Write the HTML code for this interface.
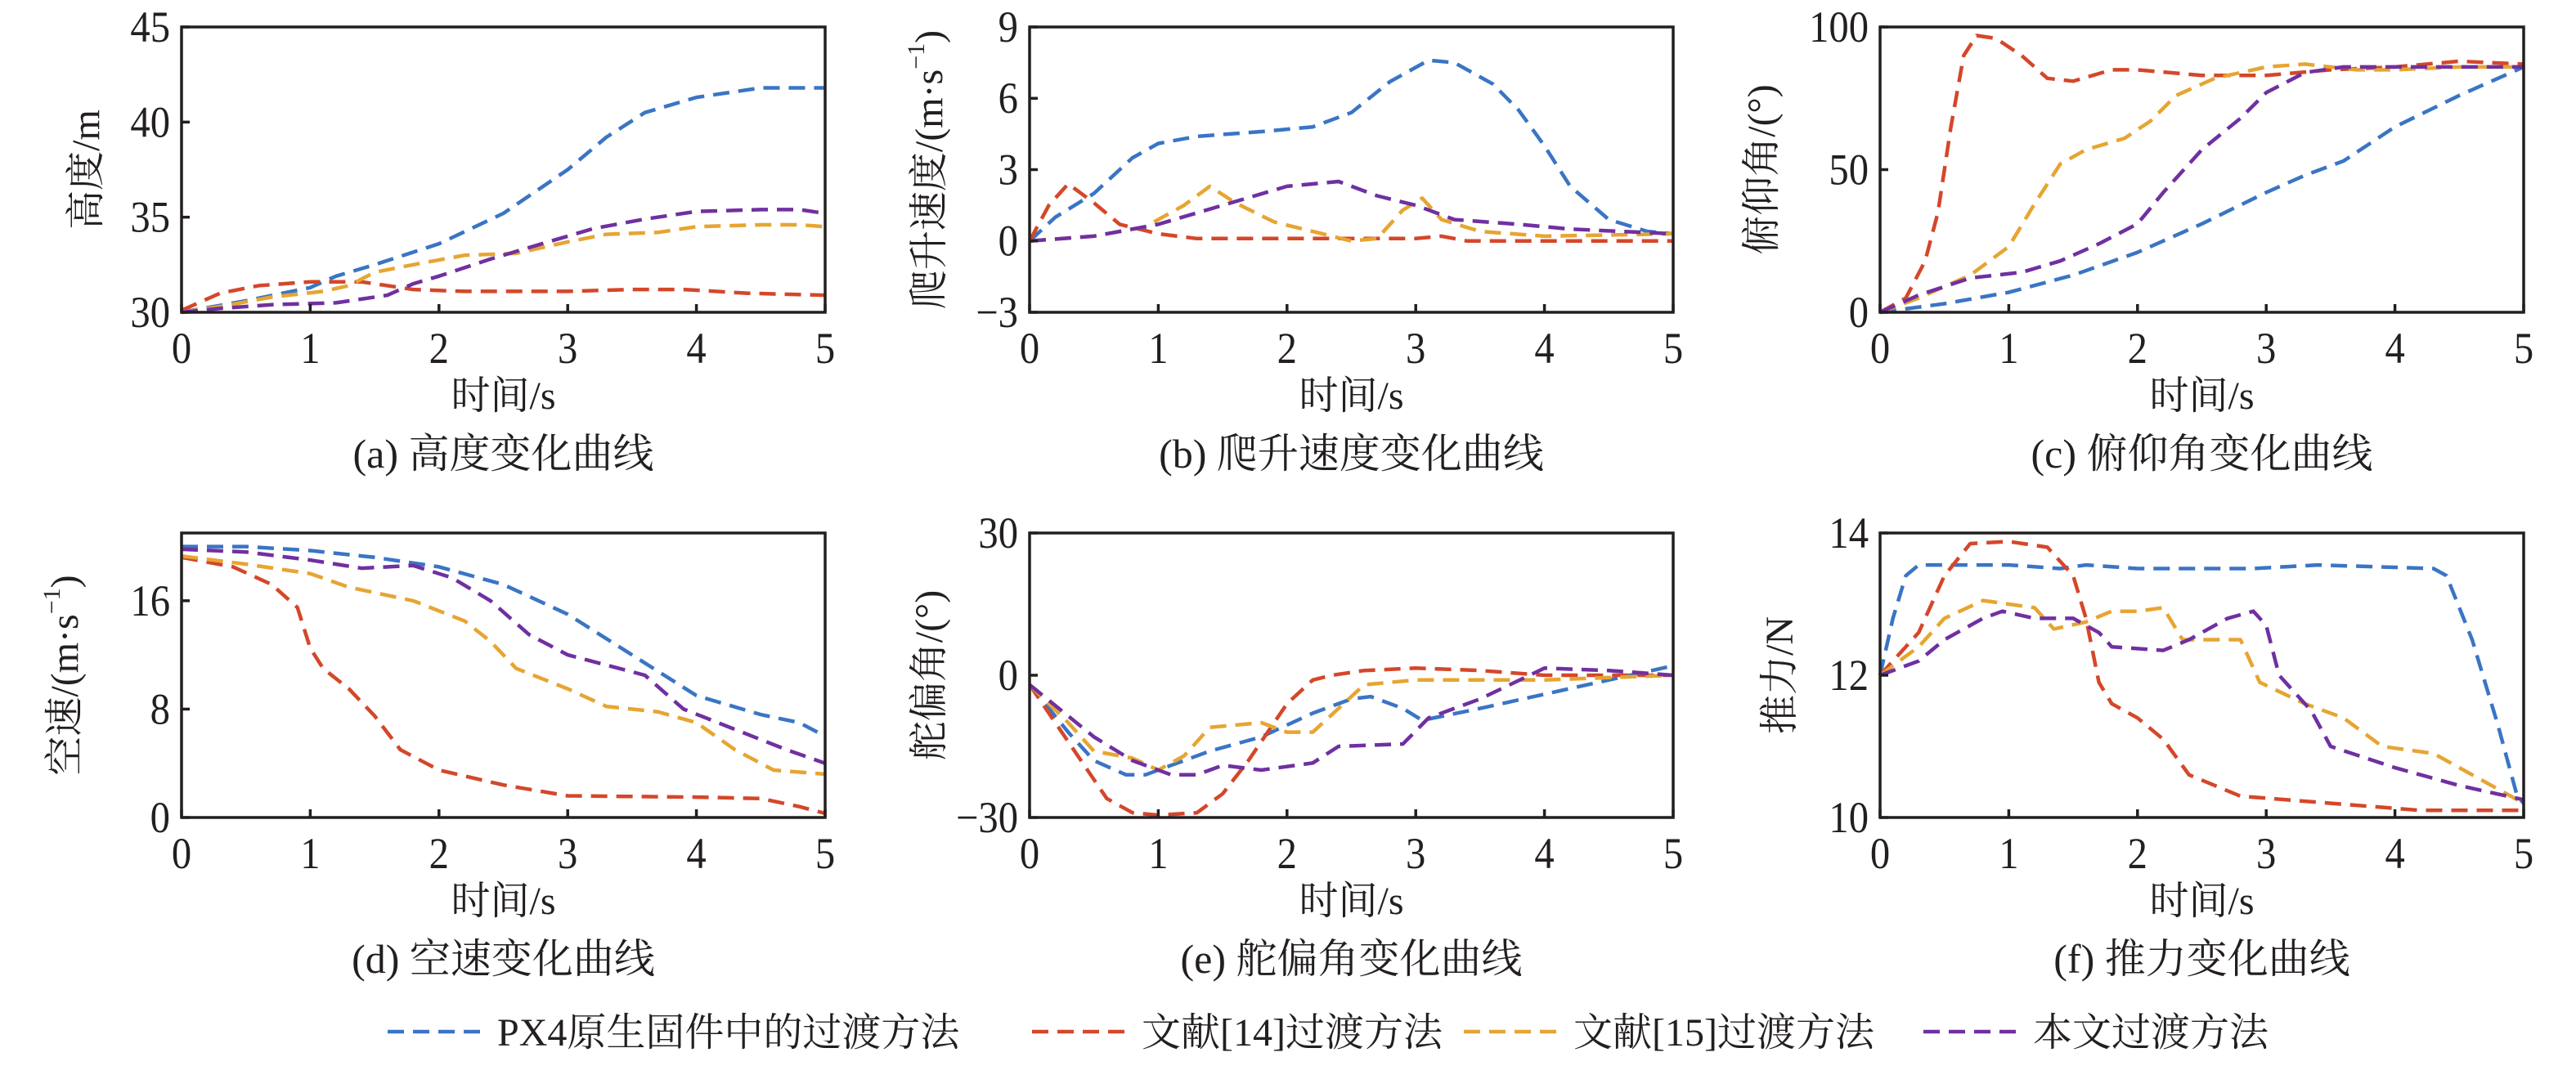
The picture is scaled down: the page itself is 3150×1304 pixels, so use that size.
<!DOCTYPE html>
<html><head><meta charset="utf-8"><style>
html,body{margin:0;padding:0;background:#fff;}
svg text{font-family:"Liberation Serif","Noto Serif CJK SC","Noto Sans CJK SC",serif;fill:#231f20;}
</style></head><body>
<svg id="s" xmlns="http://www.w3.org/2000/svg" width="3150" height="1299" viewBox="0 0 3150 1299"></svg>
<script>
const S=document.getElementById('s');
const C={b:'#3a75c4',r:'#d4472a',o:'#e6a532',p:'#7030a0'};
let h='';
function panel(x0,y0,x1,y1,ymin,ymax,yt,ylabel,cap,series,off){
  const X=t=>x0+(t/5)*(x1-x0), Y=v=>y1-(v-ymin)/(ymax-ymin)*(y1-y0);
  for(const k of ['b','r','o','p']){
    const d=series[k].map((q,i)=>(i?'L':'M')+X(q[0]).toFixed(1)+' '+Y(q[1]).toFixed(1)).join(' ');
    h+=`<path d="${d}" fill="none" stroke="${C[k]}" stroke-width="4.5" stroke-dasharray="20 11" stroke-linejoin="round"/>`;
  }
  h+=`<rect x="${x0}" y="${y0}" width="${x1-x0}" height="${y1-y0}" fill="none" stroke="#231f20" stroke-width="3.5"/>`;
  for(let t=0;t<=5;t++){const x=X(t);
    h+=`<line x1="${x}" y1="${y1}" x2="${x}" y2="${y1-10}" stroke="#231f20" stroke-width="3.5"/>`;
    h+=`<text x="${x}" y="${y1+62}" font-size="54" text-anchor="middle" transform="translate(${x} 0) scale(0.9 1) translate(${-x} 0)">${t}</text>`;}
  for(const v of yt){const y=Y(v);
    h+=`<line x1="${x0}" y1="${y}" x2="${x0+10}" y2="${y}" stroke="#231f20" stroke-width="3.5"/>`;
    h+=`<text x="${x0-14}" y="${y+18}" font-size="54" text-anchor="end" transform="translate(${x0-14} 0) scale(0.9 1) translate(${-(x0-14)} 0)">${v<0?'−'+(-v):v}</text>`;}
  const cx=x0-(off||125), cy=(y0+y1)/2;
  h+=`<text x="${cx}" y="${cy}" font-size="48" text-anchor="middle" dominant-baseline="middle" transform="rotate(-90 ${cx} ${cy})">${ylabel}</text>`;
  const mx=(x0+x1)/2;
  h+=`<text x="${mx}" y="${y1+118}" font-size="48" text-anchor="middle">时间/s</text>`;
  h+=`<text x="${mx}" y="${y1+190}" font-size="50" text-anchor="middle">${cap}</text>`;
}
const sup='<tspan font-size="30" dy="-18">−1</tspan><tspan dy="18">)</tspan>';
panel(222,33,1009,382,30,45,[30,35,40,45],'高度/m','(a) 高度变化曲线',{
b:[[0,30],[0.5,30.6],[1,31.3],[1.2,31.9],[1.5,32.5],[2,33.6],[2.5,35.2],[3,37.5],[3.3,39.2],[3.6,40.5],[4,41.3],[4.5,41.8],[5,41.8]],
r:[[0,30.1],[0.3,31],[0.6,31.4],[1,31.6],[1.4,31.6],[1.8,31.2],[2.2,31.1],[3,31.1],[3.5,31.2],[3.9,31.2],[4.4,31],[5,30.9]],
o:[[0,30],[0.3,30.3],[0.7,30.8],[1.1,31.1],[1.3,31.4],[1.5,32.1],[1.8,32.5],[2.2,33.0],[2.6,33.1],[3,33.7],[3.3,34.1],[3.7,34.2],[4,34.5],[4.5,34.6],[4.8,34.6],[5,34.5]],
p:[[0,30],[0.3,30.2],[0.7,30.4],[1.2,30.5],[1.6,30.9],[1.8,31.5],[2,31.9],[2.4,32.8],[2.8,33.6],[3.2,34.4],[3.6,34.9],[4,35.3],[4.5,35.4],[4.8,35.4],[5,35.2]]},112);
panel(1259,33,2046,382,-3,9,[-3,0,3,6,9],'爬升速度/(m·s'+sup,'(b) 爬升速度变化曲线',{
b:[[0,0],[0.2,1],[0.5,2],[0.8,3.5],[1,4.1],[1.3,4.4],[1.8,4.6],[2.2,4.8],[2.5,5.4],[2.8,6.7],[3.1,7.6],[3.3,7.5],[3.6,6.6],[3.8,5.5],[4,4],[4.2,2.3],[4.5,0.9],[4.8,0.4],[5,0.3]],
r:[[0,0],[0.15,1.5],[0.3,2.4],[0.5,1.6],[0.7,0.7],[1,0.3],[1.3,0.1],[2,0.1],[3,0.1],[3.2,0.2],[3.4,0],[4,0],[4.5,0],[5,0]],
o:[[0,0],[0.5,0.2],[0.9,0.6],[1.2,1.5],[1.4,2.3],[1.6,1.6],[1.9,0.8],[2.2,0.4],[2.5,0],[2.7,0.1],[2.9,1.3],[3.05,1.8],[3.2,0.9],[3.5,0.4],[4,0.2],[5,0.3]],
p:[[0,0],[0.5,0.2],[1,0.7],[1.5,1.5],[2,2.3],[2.4,2.5],[2.7,1.9],[3,1.5],[3.3,0.9],[3.8,0.7],[4.2,0.5],[5,0.3]]},118);
panel(2299,33,3086,382,0,100,[0,50,100],'俯仰角/(°)','(c) 俯仰角变化曲线',{
b:[[0,0],[0.5,3],[1,7],[1.5,13],[2,21],[2.5,31],[3,42],[3.3,48],[3.6,53],[4,65],[4.5,76],[5,86]],
r:[[0,0],[0.2,5],[0.35,18],[0.45,35],[0.55,65],[0.65,90],[0.75,97],[0.9,96],[1.1,90],[1.3,82],[1.5,81],[1.8,85],[2,85],[2.5,83],[3,83],[3.5,85],[4,86],[4.5,88],[5,87]],
o:[[0,0],[0.3,5],[0.7,13],[1,23],[1.2,38],[1.4,52],[1.6,57],[1.9,61],[2.1,67],[2.3,76],[2.6,82],[3,86],[3.3,87],[3.7,85],[4,85],[4.5,86],[5,86]],
p:[[0,0],[0.3,6],[0.7,12],[1.1,14],[1.4,18],[1.7,24],[2,31],[2.2,42],[2.5,57],[2.8,68],[3,77],[3.3,84],[3.6,86],[4,86],[4.5,86],[5,86]]},140);
panel(222,652,1009,1000,0,21,[0,8,16],'空速/(m·s'+sup,'(d) 空速变化曲线',{
b:[[0,20],[0.5,20],[1,19.7],[1.5,19.2],[2,18.5],[2.5,17.2],[3,15],[3.5,12],[4,9],[4.5,7.6],[4.8,7],[5,6]],
r:[[0,19.2],[0.4,18.5],[0.7,17.2],[0.9,15.5],[1,12.5],[1.1,11],[1.3,9.5],[1.5,7.5],[1.7,5],[2,3.5],[2.5,2.4],[3,1.6],[4,1.5],[4.5,1.4],[4.8,0.8],[5,0.3]],
o:[[0,19.3],[0.5,18.7],[1,18],[1.3,17],[1.8,16],[2.2,14.5],[2.4,13],[2.6,11],[3,9.5],[3.3,8.2],[3.7,7.8],[4,7],[4.3,5],[4.6,3.5],[5,3.2]],
p:[[0,19.8],[0.5,19.6],[1,19],[1.4,18.4],[1.8,18.6],[2.1,17.7],[2.4,16],[2.7,13.5],[3,12],[3.4,11],[3.6,10.5],[3.9,8],[4.3,6.5],[4.7,5],[5,4]]},138);
panel(1259,652,2046,1000,-30,30,[-30,0,30],'舵偏角/(°)','(e) 舵偏角变化曲线',{
b:[[0,-2],[0.3,-12],[0.5,-18],[0.75,-21],[0.9,-21],[1.1,-19],[1.4,-16],[1.8,-13],[2.2,-8],[2.5,-5],[2.65,-4.5],[2.9,-7],[3.05,-9.5],[3.5,-7],[4,-4],[4.5,-1],[5,2]],
r:[[0,-2],[0.3,-14],[0.45,-20],[0.6,-26],[0.8,-29],[1,-29.5],[1.3,-29],[1.5,-25],[1.7,-18],[2,-6],[2.2,-1],[2.35,0],[2.6,1],[3,1.5],[3.5,1],[4,0],[4.5,0],[5,0]],
o:[[0,-2],[0.3,-10],[0.5,-16],[0.8,-17.5],[1.0,-20],[1.2,-17],[1.4,-11],[1.8,-10],[2.0,-12],[2.2,-12],[2.4,-7],[2.6,-2],[3,-1],[3.5,-1],[4,-1],[5,0]],
p:[[0,-2],[0.5,-13],[0.8,-18],[1.1,-21],[1.3,-21],[1.5,-19],[1.8,-20],[2.2,-18.5],[2.4,-15],[2.9,-14.5],[3.1,-9],[3.5,-5],[4,1.5],[4.5,1],[5,0]]},118);
panel(2299,652,3086,1000,10,14,[10,12,14],'推力/N','(f) 推力变化曲线',{
b:[[0,12],[0.1,12.8],[0.2,13.4],[0.3,13.55],[1,13.55],[1.4,13.5],[1.6,13.55],[2,13.5],[2.9,13.5],[3.4,13.55],[4.3,13.5],[4.4,13.4],[4.6,12.5],[4.8,11.3],[4.95,10.3],[5,10.2]],
r:[[0,12],[0.3,12.6],[0.5,13.4],[0.7,13.85],[1,13.88],[1.3,13.8],[1.5,13.4],[1.6,12.8],[1.7,11.9],[1.8,11.6],[2,11.4],[2.2,11.1],[2.4,10.6],[2.8,10.3],[3.5,10.2],[4.2,10.1],[5,10.1]],
o:[[0,12],[0.3,12.4],[0.5,12.8],[0.8,13.05],[1.0,13.0],[1.2,12.95],[1.35,12.65],[1.6,12.75],[1.8,12.9],[2,12.9],[2.2,12.95],[2.35,12.5],[2.8,12.5],[2.95,11.9],[3.3,11.6],[3.6,11.4],[3.9,11.0],[4.3,10.9],[4.6,10.6],[5,10.2]],
p:[[0,12],[0.3,12.2],[0.5,12.5],[0.8,12.8],[0.95,12.9],[1.2,12.8],[1.5,12.8],[1.7,12.6],[1.8,12.4],[2.2,12.35],[2.4,12.5],[2.7,12.8],[2.9,12.9],[3.0,12.7],[3.1,12.0],[3.35,11.5],[3.5,11.0],[4.0,10.7],[4.5,10.45],[5,10.25]]},118);
const L=[[474,'b','PX4原生固件中的过渡方法'],[1262,'r','文献[14]过渡方法'],[1790,'o','文献[15]过渡方法'],[2352,'p','本文过渡方法']];
for(const [x,k,t] of L){
  h+=`<line x1="${x}" y1="1262" x2="${x+120}" y2="1262" stroke="${C[k]}" stroke-width="4.5" stroke-dasharray="20 11"/>`;
  h+=`<text x="${x+134}" y="1279" font-size="48">${t}</text>`;
}
S.innerHTML=h;
</script>
</body></html>
